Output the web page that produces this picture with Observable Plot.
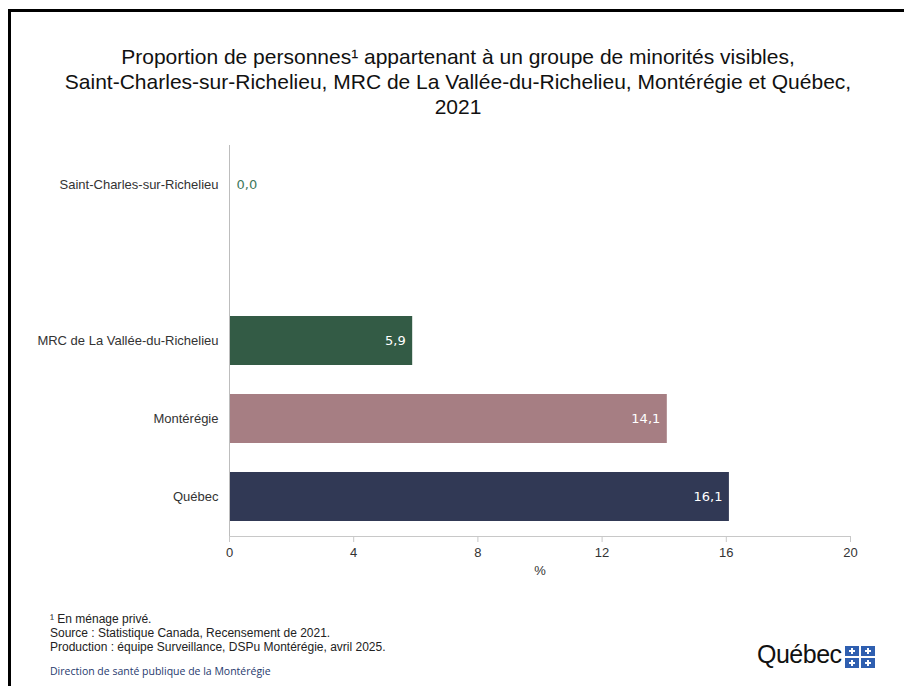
<!DOCTYPE html>
<html><head><meta charset="utf-8">
<script src="https://cdn.jsdelivr.net/npm/d3@7"></script>
<script src="https://cdn.jsdelivr.net/npm/@observablehq/plot@0.6"></script>
<style>
html,body{margin:0;padding:0;background:#fff;}
#wrap{position:relative;width:904px;height:686px;overflow:hidden;background:#fff;}
#frame{position:absolute;left:8px;top:9px;width:1000px;height:1000px;border:3px solid #000;box-sizing:border-box;}
#title{position:absolute;left:0;top:44px;width:916px;text-align:center;font-family:"Liberation Sans Narrow","Liberation Sans",Arial,sans-serif;font-size:21px;line-height:25px;color:#111;}
#chart{position:absolute;left:0;top:0;}
#notes{position:absolute;left:50px;top:612px;font-family:"Liberation Sans Narrow","Liberation Sans",Arial,sans-serif;font-size:12px;line-height:14px;color:#222;}
#dir{position:absolute;left:50px;top:664px;font-family:"Open Sans","Liberation Sans Narrow",sans-serif;font-size:10.5px;color:#1f3a6e;}
#logo{position:absolute;left:757px;top:640px;font-family:"Liberation Sans","Open Sans",sans-serif;font-size:25px;color:#111;letter-spacing:-0.5px;}
#flag{position:absolute;left:845px;top:646px;width:30px;height:22px;}
</style></head>
<body>
<div id="wrap">
<div id="frame"></div>
<div id="title">Proportion de personnes¹ appartenant à un groupe de minorités visibles,<br>Saint-Charles-sur-Richelieu, MRC de La Vallée-du-Richelieu, Montérégie et Québec,<br>2021</div>
<div id="chart"></div>
<div id="notes">¹ En ménage privé.<br>Source : Statistique Canada, Recensement de 2021.<br>Production : équipe Surveillance, DSPu Montérégie, avril 2025.</div>
<div id="dir">Direction de santé publique de la Montérégie</div>
<div id="logo">Québec</div>
<svg id="flag" viewBox="0 0 30 22">
<rect x="0" y="0" width="14" height="10" fill="#2f5fb0"/><rect x="16" y="0" width="14" height="10" fill="#2f5fb0"/>
<rect x="0" y="12" width="14" height="10" fill="#2f5fb0"/><rect x="16" y="12" width="14" height="10" fill="#2f5fb0"/>
<rect x="6" y="2" width="2" height="6" fill="#fff"/><rect x="4" y="4" width="6" height="2" fill="#fff"/>
<rect x="22" y="2" width="2" height="6" fill="#fff"/><rect x="20" y="4" width="6" height="2" fill="#fff"/>
<rect x="6" y="14" width="2" height="6" fill="#fff"/><rect x="4" y="16" width="6" height="2" fill="#fff"/>
<rect x="22" y="14" width="2" height="6" fill="#fff"/><rect x="20" y="16" width="6" height="2" fill="#fff"/>
</svg>
</div>
<script>
const categories = ["Saint-Charles-sur-Richelieu", "MRC de La Vallée-du-Richelieu", "Montérégie", "Québec"];
const values = [0.0, 5.9, 14.1, 16.1];
const colors = ["#335b45", "#335b45", "#a67e83", "#313955"];
const xTicks = [0, 4, 8, 12, 16, 20];
const yDomain = [categories[0], "", categories[1], categories[2], categories[3]];

const data = categories.map((c, i) => ({cat: c, value: values[i], color: colors[i]}));
const fmt = v => v.toFixed(1).replace(".", ",");

const plot = Plot.plot({
  width: 904,
  height: 600,
  marginLeft: 229,
  marginRight: 54,
  marginTop: 145,
  marginBottom: 64,
  style: {fontFamily: "'Liberation Sans', Arial, sans-serif", background: "transparent"},
  x: {domain: [0, 20]},
  y: {domain: yDomain, paddingInner: 0.37, paddingOuter: 0.19},
  marks: [
    Plot.barX(data, {x: "value", y: "cat", fill: "color"}),
    Plot.ruleX([0], {stroke: "#bdbdbd", strokeWidth: 1}),
    Plot.frame({anchor: "bottom", stroke: "#c8c8c8"}),
    Plot.axisX({ticks: xTicks, tickFormat: d => String(d), tickSize: 6, stroke: "#c8c8c8",
      tickPadding: 5, fontSize: 13, fill: "#333", label: "%", labelAnchor: "center", labelArrow: "none", labelOffset: 38,
      fontFamily: "'Liberation Sans Narrow', 'Liberation Sans', sans-serif"}),
    Plot.axisY({tickSize: 0, tickPadding: 11, fontSize: 13, fill: "#333", label: null, tickFormat: d => d}),
    Plot.text(data.filter(d => d.value > 1), {x: "value", y: "cat", text: d => fmt(d.value), dx: -7, textAnchor: "end", fill: "white", fontSize: 13, fontFamily: "'DejaVu Sans', sans-serif"}),
    Plot.text(data.filter(d => d.value <= 1), {x: "value", y: "cat", text: d => fmt(d.value), dx: 7, textAnchor: "start", fill: "#3f7a5c", fontSize: 13, fontFamily: "'DejaVu Sans', sans-serif"})
  ]
});
document.getElementById("chart").appendChild(plot);
</script>
</body></html>
